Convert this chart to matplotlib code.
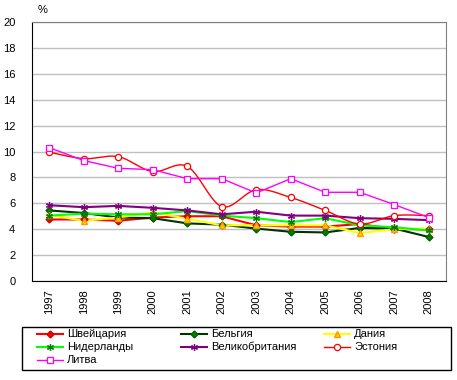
import numpy as np
import matplotlib.pyplot as plt
from matplotlib.lines import Line2D
from matplotlib.patches import Rectangle

plt.rcParams['font.family'] = ['Liberation Sans', 'DejaVu Sans']

# Данные
years = [1997, 1998, 1999, 2000, 2001, 2002, 2003, 2004, 2005, 2006, 2007, 2008]
switzerland = [4.75, 4.75, 4.65, 4.9, 5.0, 5.0, 4.3, 4.2, 4.2, 4.4, 4.0, 4.0]
belgium = [5.45, 5.25, 4.9, 4.85, 4.45, 4.35, 4.05, 3.8, 3.75, 4.1, 4.05, 3.4]
denmark = [5.1, 4.65, 4.9, 5.3, 4.8, 4.3, 4.3, 4.3, 4.3, 3.7, 4.0, 4.05]
netherlands = [5.05, 5.2, 5.15, 5.15, 5.4, 5.05, 4.85, 4.55, 4.85, 4.3, 4.15, 3.9]
uk = [5.85, 5.7, 5.8, 5.65, 5.45, 5.15, 5.35, 5.05, 5.05, 4.85, 4.8, 4.7]
estonia = [9.95, 9.45, 9.6, 8.45, 8.85, 5.75, 7.05, 6.45, 5.45, 4.4, 5.05, 5.05]
lithuania = [10.3, 9.3, 8.7, 8.6, 7.9, 7.9, 6.8, 7.9, 6.85, 6.85, 5.9, 4.9]

names = ['Швейцария', 'Бельгия', 'Дания', 'Нидерланды', 'Великобритания', 'Эстония', 'Литва']
series = [switzerland, belgium, denmark, netherlands, uk, estonia, lithuania]

styles = [
    dict(color='#ff0000', lw=1.5, marker='D', ms=3.5, mfc='#ff0000', mec='#cc0000'),
    dict(color='#003300', lw=1.5, marker='D', ms=3.5, mfc='#008000', mec='#006000'),
    dict(color='#ffff00', lw=1.5, marker='^', ms=5, mfc='#ffcc00', mec='#ff9900'),
    dict(color='#00ff00', lw=1.5, marker=(6, 2, 0), ms=5, mfc='#008000', mec='#008000', mew=0.9),
    dict(color='#800080', lw=1.5, marker=(6, 2, 0), ms=5, mfc='#800080', mec='#800080', mew=0.9),
    dict(color='#ff0000', lw=1, marker='o', ms=4.5, mfc='white', mec='#ff0000', mew=0.9),
    dict(color='#ff00ff', lw=1, marker='s', ms=4.5, mfc='white', mec='#ff00ff', mew=0.9),
]
smoothed = [False, False, False, False, False, True, False]


def smooth_curve(xs, ys, n=24):
    p = np.column_stack([xs, ys]).astype(float)
    p = np.vstack([p[0], p, p[-1]])
    out = []
    t = np.linspace(0, 1, n)[:, None]
    for i in range(1, len(p) - 2):
        p0, p1, p2, p3 = p[i - 1], p[i], p[i + 1], p[i + 2]
        c1 = p1 + (p2 - p0) / 6
        c2 = p2 - (p3 - p1) / 6
        seg = (1 - t) ** 3 * p1 + 3 * (1 - t) ** 2 * t * c1 + 3 * (1 - t) * t ** 2 * c2 + t ** 3 * p2
        out.append(seg)
    out = np.vstack(out)
    return out[:, 0], out[:, 1]


fig = plt.figure(figsize=(4.57, 3.80), dpi=100)
ax = fig.add_axes([32 / 457, 1 - 281 / 380, 414 / 457, 259 / 380])

x = np.arange(len(years))
for vals, st, sm in zip(series, styles, smoothed):
    line_kw = dict(color=st['color'], lw=st['lw'], zorder=3)
    if sm:
        sx, sy = smooth_curve(x, vals)
        ax.plot(sx, sy, **line_kw)
    else:
        ax.plot(x, vals, **line_kw)
    mk = {k: v for k, v in st.items() if k not in ('color', 'lw')}
    ax.plot(x, vals, ls='none', zorder=4, **mk)

ax.set_xlim(-0.5, len(years) - 0.5)
ax.set_ylim(0, 20)
ax.set_yticks(np.arange(0, 21, 2))
ax.set_xticks(x)
ax.set_xticklabels([str(y) for y in years], rotation=90, fontsize=8)
ax.tick_params(axis='y', length=0, pad=12, labelsize=8)
ax.tick_params(axis='x', length=0, pad=6)
for lbl in ax.get_yticklabels():
    lbl.set_ha('right')
ax.grid(axis='y', color='#c0c0c0', lw=1)
ax.set_axisbelow(True)
ax.spines['left'].set_color('black')
ax.spines['bottom'].set_color('black')
ax.spines['top'].set_color('#808080')
ax.spines['right'].set_color('#808080')
fig.text(38 / 457, 1 - 10 / 380, '%', fontsize=8, va='center', ha='left')

# Легенда
fig.patches.append(Rectangle((22 / 457, 1 - 370 / 380), 429 / 457, 43 / 380,
                             transform=fig.transFigure, fill=False, ec='black', lw=1))
col_x = [37, 181, 324]
row_y = [334, 347, 360]
for i, (name, st) in enumerate(zip(names, styles)):
    r, c = divmod(i, 3)
    x0 = col_x[c]
    yy = 1 - row_y[r] / 380
    fig.lines.append(Line2D([x0 / 457, (x0 + 26) / 457], [yy, yy], transform=fig.transFigure,
                            color=st['color'], lw=st['lw']))
    mk = {k: v for k, v in st.items() if k not in ('color', 'lw')}
    fig.lines.append(Line2D([(x0 + 13) / 457], [yy], transform=fig.transFigure, ls='none', **mk))
    fig.text((x0 + 30) / 457, yy, name, fontsize=8, va='center', ha='left')

fig.savefig('out.png', dpi=100)
